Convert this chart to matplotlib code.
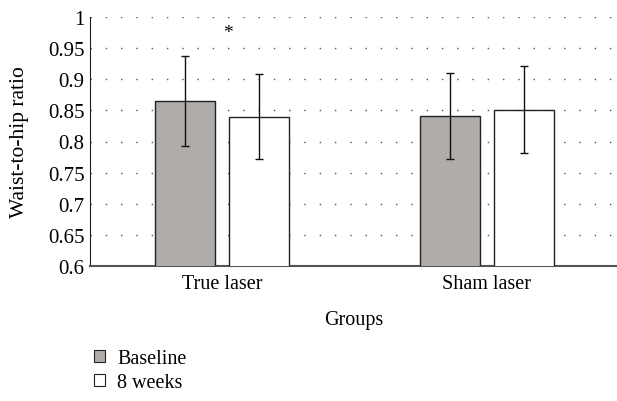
import numpy as np
import matplotlib.pyplot as plt
from matplotlib.patches import Patch

groups = ["True laser", "Sham laser"]
baseline = [0.865, 0.841]
baseline_err = [0.072, 0.069]
weeks8 = [0.840, 0.851]
weeks8_err = [0.068, 0.070]
yticks = [0.6, 0.65, 0.7, 0.75, 0.8, 0.85, 0.9, 0.95, 1.0]
ytick_labels = ["0.6", "0.65", "0.7", "0.75", "0.8", "0.85", "0.9", "0.95", "1"]

plt.rcParams['font.family'] = ['Liberation Serif', 'DejaVu Serif']

fig = plt.figure(figsize=(6.17, 4.02), dpi=100)
ax = fig.add_axes([90 / 617, 1 - 267 / 402, 529 / 617, 249 / 402])

x = np.arange(len(groups))
w = 0.226
off = 0.14
ax.bar(x - off, baseline, w, bottom=0, color="#b0acaa", edgecolor="#222222",
       linewidth=1.0, zorder=3)
ax.bar(x + off, weeks8, w, bottom=0, color="white", edgecolor="#222222",
       linewidth=1.0, zorder=3)
ax.errorbar(x - off, baseline, yerr=baseline_err, fmt="none", ecolor="#111111",
            elinewidth=1.0, capsize=3, capthick=1.0, zorder=4)
ax.errorbar(x + off, weeks8, yerr=weeks8_err, fmt="none", ecolor="#111111",
            elinewidth=1.0, capsize=3, capthick=1.0, zorder=4)

ax.text(0.02, 0.975, "*", ha="center", va="center", fontsize=14)

ax.set_xlim(-0.5, 1.5)
ax.set_ylim(0.6, 1.0)
ax.set_yticks(yticks)
ax.set_yticklabels(ytick_labels, fontsize=15)
ax.set_xticks(x)
ax.set_xticklabels(groups, fontsize=14.5)
ax.tick_params(axis="x", length=0, pad=6)
ax.tick_params(axis="y", length=0, pad=4)

ax.grid(axis="y", color="#555555", linestyle=(0, (1, 10)), linewidth=1.0, zorder=0)
ax.set_axisbelow(True)
for s in ["top", "right"]:
    ax.spines[s].set_visible(False)
ax.spines["left"].set_color("#222222")
ax.spines["bottom"].set_color("#555555")
ax.spines["bottom"].set_linewidth(1.5)

ax.set_ylabel("Waist-to-hip ratio", fontsize=15.5)
ax.yaxis.set_label_coords(20 / 617, 1 - 142 / 402, transform=fig.transFigure)
ax.yaxis.label.set_va("center")
fig.text(354 / 617, 1 - 321 / 402, "Groups", ha="center", va="center", fontsize=14.5)

handles = [Patch(facecolor="#b0acaa", edgecolor="#222222", linewidth=0.8),
           Patch(facecolor="white", edgecolor="#222222", linewidth=0.8)]
fig.legend(handles, ["Baseline", "8 weeks"], loc="upper left",
           bbox_to_anchor=(80 / 617, 1 - 336 / 402), frameon=False, fontsize=14.5,
           handlelength=0.55, handleheight=0.55, handletextpad=0.6, labelspacing=0.25,
           borderpad=0.2)

fig.savefig("out.png", dpi=100)
